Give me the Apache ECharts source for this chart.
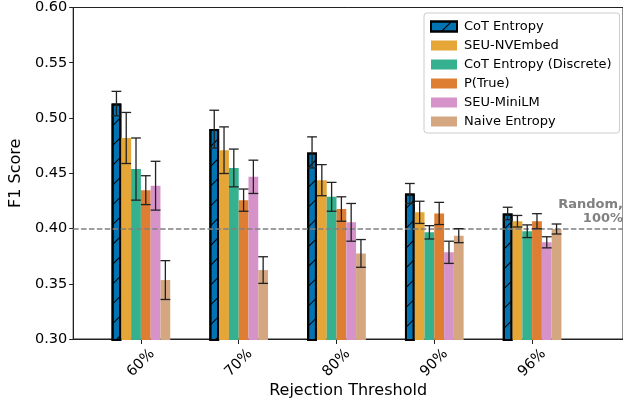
<!DOCTYPE html>
<html>
<head>
<meta charset="utf-8">
<script src="https://cdn.jsdelivr.net/npm/echarts@6/dist/echarts.min.js"></script>
<style>html,body{margin:0;padding:0;background:#fff}#c{width:623px;height:404px}</style>
</head>
<body>
<div id="c"></div>
<script>
const categories = ['60%', '70%', '80%', '90%', '96%'];
const methods = ['CoT Entropy', 'SEU-NVEmbed', 'CoT Entropy (Discrete)', 'P(True)', 'SEU-MiniLM', 'Naive Entropy'];
const cotEntropy      = [0.513, 0.490, 0.469, 0.432, 0.414];
const seuNVEmbed      = [0.482, 0.471, 0.444, 0.415, 0.407];
const cotDiscrete     = [0.454, 0.455, 0.429, 0.397, 0.398];
const pTrue           = [0.435, 0.426, 0.418, 0.414, 0.407];
const seuMiniLM       = [0.439, 0.447, 0.406, 0.379, 0.388];
const naiveEntropy    = [0.354, 0.363, 0.378, 0.394, 0.400];
const cotEntropyErr   = [0.011, 0.017, 0.014, 0.009, 0.0056];
const seuNVEmbedErr   = [0.023, 0.021, 0.014, 0.010, 0.0052];
const cotDiscreteErr  = [0.028, 0.017, 0.013, 0.006, 0.0057];
const pTrueErr        = [0.013, 0.010, 0.011, 0.010, 0.0068];
const seuMiniLMErr    = [0.022, 0.015, 0.017, 0.010, 0.005];
const naiveEntropyErr = [0.0175, 0.012, 0.0125, 0.0063, 0.0045];
const randomBaseline = 0.40;
const yTicks = [0.30, 0.35, 0.40, 0.45, 0.50, 0.55, 0.60];

const values = [cotEntropy, seuNVEmbed, cotDiscrete, pTrue, seuMiniLM, naiveEntropy];
const errors = [cotEntropyErr, seuNVEmbedErr, cotDiscreteErr, pTrueErr, seuMiniLMErr, naiveEntropyErr];
const colors = ['#0173b2', '#e5a537', '#35b18f', '#dd7e33', '#d693c9', '#d5a781'];
const FONT = 'DejaVu Sans';
const nM = methods.length;

const barSeries = methods.map((m, k) => {
  const s = {
    name: m, type: 'bar', xAxisIndex: 1, yAxisIndex: 1,
    data: values[k], barWidth: '10%', barGap: '0%',
    itemStyle: { color: colors[k] }, z: 3
  };
  if (k === 0) {
    s.itemStyle = {
      color: colors[0], borderColor: '#000', borderWidth: 2,
      decal: { symbol: 'rect', symbolSize: 1, dashArrayX: [1, 0], dashArrayY: [1, 13], rotation: -Math.PI / 4, color: '#000' }
    };
  }
  return s;
});

const errData = [];
values.forEach((arr, k) => arr.forEach((v, i) => errData.push([i, k, v - errors[k][i], v + errors[k][i]])));

const errSeries = {
  type: 'custom', xAxisIndex: 1, yAxisIndex: 1, z: 10, silent: true,
  data: errData,
  renderItem: function (params, api) {
    const i = api.value(0), k = api.value(1);
    const band = api.size([1, 0])[0];
    const bw = band * 0.1;
    const lo = api.coord([i, api.value(2)]);
    const hi = api.coord([i, api.value(3)]);
    const x = lo[0] + (k - (nM - 1) / 2) * bw;
    const cap = bw / 2;
    const st = { stroke: '#222', lineWidth: 1.3 };
    return {
      type: 'group', children: [
        { type: 'line', shape: { x1: x, y1: lo[1], x2: x, y2: hi[1] }, style: st },
        { type: 'line', shape: { x1: x - cap, y1: lo[1], x2: x + cap, y2: lo[1] }, style: st },
        { type: 'line', shape: { x1: x - cap, y1: hi[1], x2: x + cap, y2: hi[1] }, style: st }
      ]
    };
  }
};

const baseSeries = {
  type: 'line', xAxisIndex: 0, yAxisIndex: 0, data: [], z: 5,
  markLine: {
    silent: true, symbol: 'none',
    lineStyle: { color: '#808080', type: [5.5, 2.4], width: 1.5 },
    label: {
      show: true, position: 'insideEndTop', formatter: 'Random,\n100%',
      color: '#808080', fontWeight: 'bold', fontSize: 13, fontFamily: FONT,
      align: 'right', lineHeight: 14, distance: [0, 3]
    },
    data: [{ yAxis: randomBaseline }]
  }
};

const chart = echarts.init(document.getElementById('c'), null, { renderer: 'canvas' });
chart.setOption({
  animation: false,
  textStyle: { fontFamily: FONT },
  grid: [
    { left: 68, right: -2, top: 7, bottom: 64, show: true, borderColor: '#222', borderWidth: 1, backgroundColor: 'transparent' },
    { left: 92, width: 489, top: 7, bottom: 64 }
  ],
  xAxis: [
    { type: 'value', gridIndex: 0, min: 0, max: 1, axisLine: { show: true, lineStyle: { color: '#222' } },
      axisTick: { show: false }, axisLabel: { show: false }, splitLine: { show: false },
      name: 'Rejection Threshold', nameLocation: 'middle', nameGap: 44,
      nameTextStyle: { fontSize: 16, color: '#000', fontFamily: FONT } },
    { type: 'category', gridIndex: 1, data: categories, boundaryGap: true,
      axisLine: { show: false },
      axisTick: { show: true, alignWithLabel: true, length: 4, lineStyle: { color: '#222' } },
      axisLabel: { rotate: 45, fontSize: 14.5, color: '#000', fontFamily: FONT, margin: 23, align: 'center', verticalAlign: 'middle' } }
  ],
  yAxis: [
    { type: 'value', gridIndex: 0, min: 0.30, max: 0.60, interval: 0.05,
      axisLine: { show: true, lineStyle: { color: '#222' } },
      axisTick: { show: true, length: 4, lineStyle: { color: '#222' } },
      axisLabel: { fontSize: 14.5, color: '#000', fontFamily: FONT, margin: 6, formatter: v => v.toFixed(2) },
      splitLine: { show: false },
      name: 'F1 Score', nameLocation: 'middle', nameGap: 45,
      nameTextStyle: { fontSize: 16, color: '#000', fontFamily: FONT } },
    { type: 'value', gridIndex: 1, min: 0.30, max: 0.60, interval: 0.05, show: false }
  ],
  legend: {
    data: methods, orient: 'vertical', left: 424, top: 13,
    padding: [7, 8, 5, 6], itemWidth: 26, itemHeight: 10, itemGap: 6,
    borderColor: '#ccc', borderWidth: 1, borderRadius: 3, backgroundColor: 'rgba(255,255,255,0.85)',
    textStyle: { fontSize: 13, color: '#000', fontFamily: FONT, padding: [0, 0, 0, 2] },
    icon: 'rect'
  },
  series: [baseSeries, ...barSeries, errSeries]
});
</script>
</body>
</html>
